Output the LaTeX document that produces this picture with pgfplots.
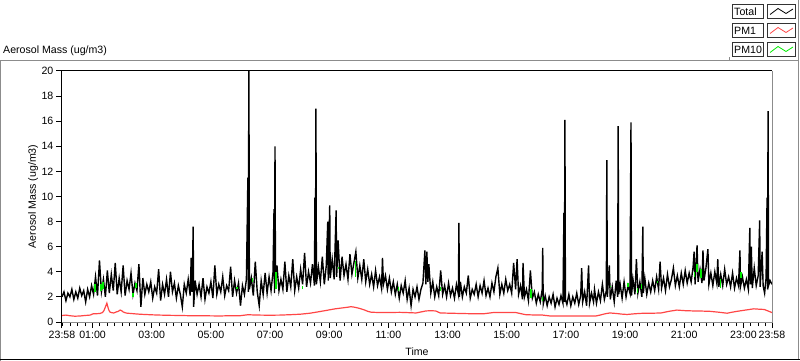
\documentclass[border=0pt]{standalone}
\usepackage{fontspec}
\setmainfont{Liberation Sans}
\usepackage{pgfplots}
\pgfplotsset{compat=1.18}
\definecolor{lvred}{RGB}{255,70,70}
\definecolor{lvgreen}{RGB}{0,235,0}
\definecolor{lvgray}{RGB}{140,140,140}
\begin{document}
\begin{tikzpicture}[font=\fontsize{10.6bp}{12bp}\selectfont]
\path[use as bounding box] (0,0) rectangle (800bp,361bp);
% outer frame
\draw[lvgray, line width=1bp] (0.5bp,0bp) -- (0.5bp,300bp) -- (798.5bp,300bp);
\draw[lvgray, line width=1bp] (798.5bp,361bp) -- (798.5bp,1bp);
\draw[black, line width=1bp] (0bp,1.5bp) -- (800bp,1.5bp);
\draw[lvgray, line width=1bp] (729.5bp,300bp) -- (729.5bp,304bp);
% title
\node[anchor=base west, inner sep=0pt] at (3bp,307bp) {Aerosol Mass (ug/m3)};
% legend
\foreach \yt/\lab/\col in {356.5/Total/black, 337.5/PM1/lvred, 318.5/PM10/lvgreen}{
  \draw[black!80, line width=1bp] (732.5bp,\yt bp) rectangle (763.5bp,\yt bp-14bp);
  \draw[black!80, line width=1bp] (767.5bp,\yt bp) rectangle (795.5bp,\yt bp-14bp);
  \node[anchor=west, inner sep=0pt] at (734bp,\yt bp-7bp) {\lab};
  \draw[\col, line width=0.8bp] (770bp,\yt bp-10bp) -- (778bp,\yt bp-4bp) -- (786bp,\yt bp-9bp) -- (793bp,\yt bp-4.5bp);
}
\begin{axis}[
  at={(62bp,39bp)}, anchor=south west,
  scale only axis, width=710bp, height=251bp,
  xmin=0, xmax=1440, ymin=0, ymax=20,
  clip mode=individual,
  axis line style={draw=none},
  tick align=outside,
  xtick pos=bottom, ytick pos=left,
  major tick length=6bp, minor tick length=4bp,
  every tick/.style={black, line width=1bp},
  ytick={0,2,...,20},
  xtick={0,62,182,302,422,542,662,782,902,1022,1142,1262,1382,1440},
  xticklabels={23:58,01:00,03:00,05:00,07:00,09:00,11:00,13:00,15:00,17:00,19:00,21:00,23:00,23:58},
  minor xtick={2,17,...,1427},
  /pgf/number format/assume math mode=true,
  tick label style={font=\fontsize{10.6bp}{12bp}\selectfont},
  xticklabel style={inner sep=2.5bp},
  yticklabel style={inner sep=2.5bp},
  label style={font=\fontsize{10.6bp}{12bp}\selectfont},
  ylabel={Aerosol Mass (ug/m3)},
  ylabel style={at={(axis description cs:-0.0408,0.5)}, anchor=center},
  xlabel={Time},
  xlabel style={at={(axis description cs:0.5,-0.1175)}, anchor=center},
  unbounded coords=jump,
]
% PM1
\addplot[lvred, line width=1.2bp] coordinates {
(0,0.52)(8,0.55)(16,0.50)(26,0.46)(37,0.48)(47,0.52)(57,0.55)(63,0.65)(70,0.66)(77,0.68)(82,0.75)(85,0.9)(87,1.1)(89,1.3)(91,1.5)(93,1.2)(95,0.95)(97,0.8)(101,0.74)(105,0.72)(110,0.8)(114,0.85)(118,0.95)(121,0.9)(124,0.8)(128,0.74)(132,0.7)(140,0.68)(148,0.65)(158,0.62)(168,0.6)(184,0.57)(199,0.55)(220,0.53)(239,0.52)(260,0.5)(280,0.5)(300,0.49)(320,0.48)(340,0.5)(361,0.5)(377,0.58)(390,0.56)(402,0.55)(420,0.54)(442,0.55)(462,0.58)(483,0.62)(493,0.66)(503,0.7)(518,0.8)(533,0.9)(544,0.98)(554,1.05)(564,1.1)(574,1.15)(580,1.18)(586,1.22)(593,1.18)(600,1.12)(607,1.04)(614,0.95)(620,0.85)(627,0.78)(640,0.76)(655,0.75)(670,0.76)(685,0.77)(700,0.75)(718,0.72)(728,0.8)(738,0.88)(748,0.9)(758,0.88)(767,0.72)(787,0.7)(807,0.68)(830,0.66)(854,0.65)(864,0.7)(874,0.75)(898,0.75)(921,0.75)(931,0.66)(941,0.58)(958,0.56)(975,0.55)(990,0.48)(1010,0.47)(1030,0.48)(1050,0.47)(1070,0.48)(1083,0.48)(1091,0.55)(1101,0.65)(1111,0.72)(1124,0.68)(1135,0.63)(1146,0.6)(1163,0.66)(1180,0.7)(1198,0.7)(1215,0.72)(1231,0.85)(1247,0.95)(1265,0.9)(1282,0.88)(1298,0.87)(1314,0.85)(1332,0.78)(1349,0.7)(1359,0.78)(1369,0.85)(1386,0.95)(1403,1.05)(1414,1.02)(1424,1.0)(1432,0.88)(1440,0.75)
};
% Total
\addplot[black, line width=1.4bp] coordinates {
(0,2.0)(4,2.4)(8,1.7)(12,2.3)(16,2.0)(20,2.6)(24,1.8)(28,2.4)(32,1.9)(36,2.7)(40,2.1)(44,2.5)(48,1.6)(52,2.6)(56,2.0)
(60,2.9)(64,2.2)(68,3.6)(72,2.1)(76,4.9)(80,2.4)(84,3.4)(88,2.0)(92,4.1)(96,2.3)(100,3.8)(104,2.5)(108,4.7)(112,2.2)(116,3.5)
(120,2.4)(124,4.5)(128,2.1)(132,3.3)(136,2.6)(140,3.9)(144,2.2)(148,3.1)(152,2.5)(156,4.6)(160,1.2)(164,3.5)(168,2.2)(172,3.0)(176,2.4)
(180,3.2)(184,1.9)(188,2.8)(192,2.3)(196,4.2)(200,1.7)(204,3.0)(208,2.2)(212,3.4)(216,2.0)(220,4.0)(224,2.4)(228,3.1)(232,1.9)(236,2.9)
(240,2.2)(244,1.2)(248,3.0)(252,2.3)(256,3.4)(260,2.1)(262,5.1)(264,2.4)(266,7.6)(267,1.2)(270,3.3)(274,2.2)(278,3.0)(282,2.0)(286,3.5)(290,1.8)(294,2.8)
(298,2.3)(302,3.2)(306,1.9)(310,4.5)(314,2.2)(318,3.0)(322,2.4)(326,3.6)(330,2.1)(334,2.9)(338,2.5)(342,4.4)(346,2.0)(350,3.3)(354,2.3)
(358,3.1)(362,1.3)(366,2.9)(370,2.2)(374,3.4)(377,11.5)(378,2.4)(379,22)(380,2.6)(384,3.5)(388,2.1)(392,4.8)(396,2.4)(400,1.3)(404,3.3)(408,2.2)(412,3.9)(416,2.3)
(420,3.6)(424,2.5)(428,4.0)(430,9.0)(431,2.3)(432,14.0)(433,2.8)(436,4.5)(440,2.5)(444,3.4)(448,2.6)(452,4.8)(456,2.4)(460,3.7)(464,2.8)(468,5.0)(472,2.5)(476,3.6)
(480,2.7)(484,4.2)(488,3.0)(492,5.5)(496,2.8)(500,4.0)(504,3.1)(508,4.6)(512,2.9)(513,9.9)(514,3.2)(515,17.0)(516,3.0)(520,4.4)(524,3.2)(528,5.2)(532,3.0)(536,4.5)
(539,8.0)(540,3.3)(543,9.3)(544,3.5)(548,5.0)(552,3.4)(556,8.9)(557,3.6)(560,6.5)(564,3.3)(568,5.2)(572,3.7)(576,4.6)(580,3.4)(584,5.4)(588,3.8)(592,4.7)(596,5.6)
(600,3.5)(604,4.5)(608,3.4)(612,5.0)(616,3.2)(620,4.2)(624,3.0)(628,3.8)(632,2.8)(636,4.1)(640,2.9)(644,3.6)(648,2.7)(650,5.1)(652,3.0)(656,3.7)
(660,2.6)(664,3.5)(668,2.4)(672,3.2)(676,2.2)(680,3.0)(684,1.9)(688,2.9)(692,2.3)(696,3.3)(700,1.8)(704,2.7)(708,1.3)(712,2.6)(716,2.0)
(720,2.8)(724,1.8)(728,2.6)(732,3.1)(736,5.7)(738,3.0)(740,5.6)(742,3.2)(744,4.6)(748,2.3)(752,3.2)(756,2.0)(760,2.8)(764,2.1)(768,4.1)(772,2.2)(776,2.9)
(780,2.0)(784,3.1)(788,2.1)(792,2.7)(796,1.9)(800,3.0)(804,2.2)(805,7.9)(806,2.0)(808,3.2)(812,2.0)(816,2.8)(820,2.3)(824,3.7)(828,1.9)(832,2.6)(836,2.2)
(840,3.0)(844,2.0)(848,2.9)(852,2.3)(856,3.3)(860,2.1)(864,2.7)(868,2.0)(872,3.1)(876,2.4)(880,3.6)(884,4.3)(888,2.2)(892,3.0)(896,2.3)
(900,3.4)(904,2.5)(908,3.0)(912,2.3)(916,4.7)(920,2.6)(923,5.0)(926,2.2)(930,2.9)(934,1.8)(935,4.7)(938,2.0)(942,2.6)(946,1.7)(950,4.1)(954,1.9)
(958,2.4)(962,1.5)(966,2.2)(970,1.6)(974,2.6)(975,5.9)(976,1.4)(980,2.1)(984,1.3)(988,2.0)(992,1.5)(996,2.2)(1000,1.2)(1004,1.9)(1008,1.4)(1012,2.1)(1016,1.5)
(1018,8.7)(1019,1.6)(1020,16.1)(1021,1.8)(1024,1.4)(1028,2.2)(1032,1.3)(1036,2.0)(1040,1.5)(1044,2.3)(1048,1.4)(1052,2.1)(1054,4.3)(1056,1.6)(1060,2.4)(1064,1.3)(1068,4.5)(1070,1.5)(1074,2.3)(1078,1.6)
(1080,2.6)(1084,1.5)(1088,2.4)(1092,1.7)(1096,3.0)(1100,1.8)(1104,2.5)(1105,12.9)(1106,2.0)(1110,4.5)(1112,1.8)(1116,2.8)(1120,1.6)(1124,3.3)(1127,2.0)(1128,15.6)(1129,2.2)(1132,3.0)(1136,1.9)
(1140,3.2)(1144,2.0)(1148,2.9)(1152,2.3)(1154,15.9)(1155,2.1)(1158,3.4)(1162,2.2)(1165,5.0)(1168,2.3)(1172,3.2)(1176,2.0)(1178,7.6)(1179,2.3)(1182,3.5)(1186,2.2)(1190,3.1)(1194,2.4)
(1198,3.3)(1202,2.5)(1206,3.6)(1210,2.6)(1213,4.8)(1216,2.7)(1220,3.5)(1224,2.5)(1228,3.8)(1232,2.8)(1236,3.4)(1240,4.3)(1244,2.9)(1248,3.7)(1252,2.8)(1256,3.9)
(1260,3.0)(1264,4.1)(1268,3.1)(1272,3.9)(1276,3.2)(1280,4.4)(1282,5.6)(1284,3.0)(1288,6.1)(1290,3.2)(1294,4.2)(1298,3.1)(1300,5.7)(1302,3.3)(1306,4.3)(1310,5.8)(1312,3.0)(1316,3.9)
(1320,2.9)(1324,4.0)(1328,3.1)(1330,5.0)(1332,2.8)(1336,3.8)(1340,2.9)(1344,4.2)(1348,3.0)(1352,3.6)(1356,2.8)(1360,3.9)(1364,2.7)(1368,3.5)(1372,2.9)(1375,5.7)(1376,2.8)
(1380,3.6)(1384,2.7)(1388,3.4)(1392,2.6)(1395,7.5)(1396,3.0)(1398,6.0)(1400,2.7)(1404,4.3)(1408,2.9)(1412,3.7)(1415,8.1)(1416,2.8)(1420,5.6)(1422,2.9)(1425,2.3)(1428,3.5)(1430,9.9)(1431,2.6)(1432,16.8)(1433,2.9)(1436,3.3)(1440,3.0)
};
% PM10 (visible fragments)
\addplot[lvgreen, line width=1.2bp] coordinates {
(67,2.4)(67,3.0)(nan,nan)(79,2.5)(79,3.0)(nan,nan)(83,2.6)(83,3.2)(nan,nan)(144,2.0)(144,2.3)(nan,nan)(150,2.7)(150,3.1)(nan,nan)
(355,2.6)(355,2.8)(nan,nan)(387,3.2)(387,3.5)(nan,nan)(434,2.6)(434,4.0)(nan,nan)(487,2.6)(487,2.9)(nan,nan)(560,4.2)(560,4.4)(nan,nan)
(596,3.6)(596,4.9)(nan,nan)(683,2.5)(683,2.8)(nan,nan)(767,2.5)(767,2.8)(nan,nan)(951,1.9)(951,2.6)(nan,nan)(975,1.7)(975,2.0)(nan,nan)
(1113,2.8)(1113,2.9)(nan,nan)(1148,2.8)(1148,3.1)(nan,nan)(1168,2.3)(1168,2.7)(nan,nan)(1176,2.6)(1176,3.0)(nan,nan)(1207,3.1)(1207,3.3)(nan,nan)
(1282,3.6)(1282,4.0)(nan,nan)(1288,4.0)(1288,4.6)(nan,nan)(1296,3.5)(1296,4.2)(nan,nan)(1336,2.7)(1336,3.4)(nan,nan)(1377,3.5)(1377,4.0)
};
% plot frame
\draw[black, line width=1bp] (rel axis cs:0,0) -- (rel axis cs:0,1) -- (rel axis cs:1,1);
\draw[lvgray, line width=1bp] (rel axis cs:1,1) -- (rel axis cs:1,0) -- (rel axis cs:0,0);
\end{axis}
\end{tikzpicture}
\end{document}
